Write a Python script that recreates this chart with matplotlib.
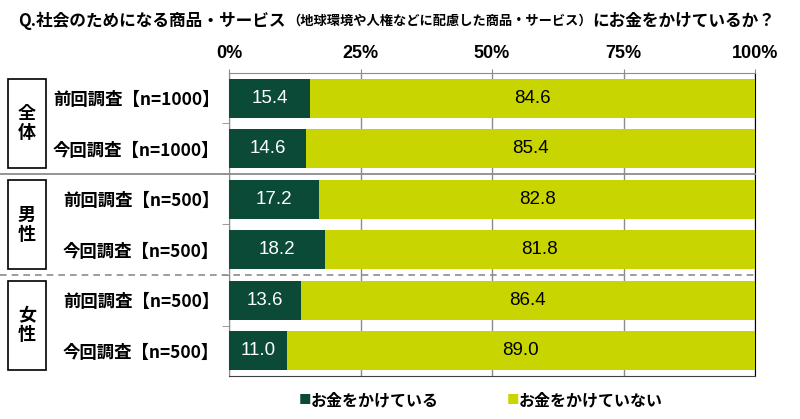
import matplotlib.pyplot as plt
import matplotlib.patches as patches
import matplotlib.transforms as mtransforms
from matplotlib.lines import Line2D
import numpy as np

plt.rcParams['font.family'] = ['Noto Sans CJK JP', 'DejaVu Sans']

# data
groups = ['全体', '男性', '女性']
rows = ['前回調査【n=1000】', '今回調査【n=1000】',
        '前回調査【n=500】', '今回調査【n=500】',
        '前回調査【n=500】', '今回調査【n=500】']
spend = [15.4, 14.6, 17.2, 18.2, 13.6, 11.0]
no_spend = [84.6, 85.4, 82.8, 81.8, 86.4, 89.0]
series_names = ['お金をかけている', 'お金をかけていない']
xticks = [0, 25, 50, 75, 100]

colors = ['#0B4A37', '#C8D500']
W, H = 800, 419

fig = plt.figure(figsize=(W / 100, H / 100), dpi=100, facecolor='white')
ax = fig.add_axes([229 / W, 1 - 376 / H, (755 - 229) / W, (376 - 73) / H])

y = np.arange(len(rows))
ax.barh(y, spend, height=0.78, color=colors[0], zorder=3)
ax.barh(y, no_spend, left=spend, height=0.78, color=colors[1], zorder=3)

ax.set_xlim(0, 100)
ax.set_ylim(len(rows) - 0.5, -0.5)

# x axis on top
ax.xaxis.tick_top()
ax.set_xticks(xticks)
ax.set_xticklabels([f'{t}%' for t in xticks], fontfamily='Liberation Sans',
                   fontweight='bold', fontsize=13)
ax.tick_params(axis='x', length=3, color='#8c8c8c', pad=5)

# y labels at rows, small ticks at row boundaries
ax.set_yticks(y)
ax.set_yticklabels(rows, fontsize=12.5, fontweight='bold')
ax.tick_params(axis='y', which='major', length=0, pad=7)
ax.set_yticks(np.arange(0.5, len(rows) - 0.5, 1), minor=True)
ax.tick_params(axis='y', which='minor', length=5, color='#8c8c8c')

ax.xaxis.grid(True, color='#8c8c8c', lw=1)
ax.set_axisbelow(True)
ax.spines['top'].set_color('#8c8c8c')
ax.spines['left'].set_color('#8c8c8c')
ax.spines['bottom'].set_color('#404040')
ax.spines['right'].set_color('black')

# value labels
for i in range(len(rows)):
    ax.text(spend[i] / 2, i, f'{spend[i]:.1f}', color='white', ha='center',
            va='center', fontsize=13.5, fontfamily='Liberation Sans', zorder=4)
    ax.text(spend[i] + no_spend[i] / 2, i, f'{no_spend[i]:.1f}', color='black',
            ha='center', va='center', fontsize=13.5, fontfamily='Liberation Sans',
            zorder=4)

# group separators and boxes
trans = mtransforms.blended_transform_factory(fig.transFigure, ax.transData)
fig.add_artist(Line2D([0, 755 / W], [1.5, 1.5], transform=trans,
                      color='#8c8c8c', lw=1.3))
fig.add_artist(Line2D([0, 755 / W], [3.5, 3.5], transform=trans,
                      color='#8c8c8c', lw=1.2, ls=(0, (4, 3))))
for g, name in enumerate(groups):
    y0 = 2 * g - 0.39
    y1 = 2 * g + 1 + 0.39
    fig.add_artist(patches.Rectangle((8 / W, y0), 38 / W, y1 - y0, transform=trans,
                                     fill=False, ec='black', lw=1.2))
    fig.text(27 / W, 2 * g + 0.5, '\n'.join(name), transform=trans, ha='center',
             va='center', fontsize=13, fontweight='bold', linespacing=1.0)

# title in three pieces
ty = 1 - 21 / H
fig.text(18 / W, ty, 'Q.社会のためになる商品・サービス', fontsize=12,
         fontweight='bold', va='center')
fig.text(287 / W, ty, '（地球環境や人権などに配慮した商品・サービス）', fontsize=9.5,
         fontweight='bold', va='center')
fig.text(592 / W, ty, 'にお金をかけているか？', fontsize=12,
         fontweight='bold', va='center')

# legend
ly = 1 - 400 / H
for x0, name, c in zip([299, 507], series_names, colors):
    fig.text(x0 / W, ly, '■', color=c, fontsize=9, va='center')
    fig.text((x0 + 12) / W, ly, name, fontsize=11.5, fontweight='bold', va='center')

fig.savefig('out.png', dpi=100, facecolor='white')
